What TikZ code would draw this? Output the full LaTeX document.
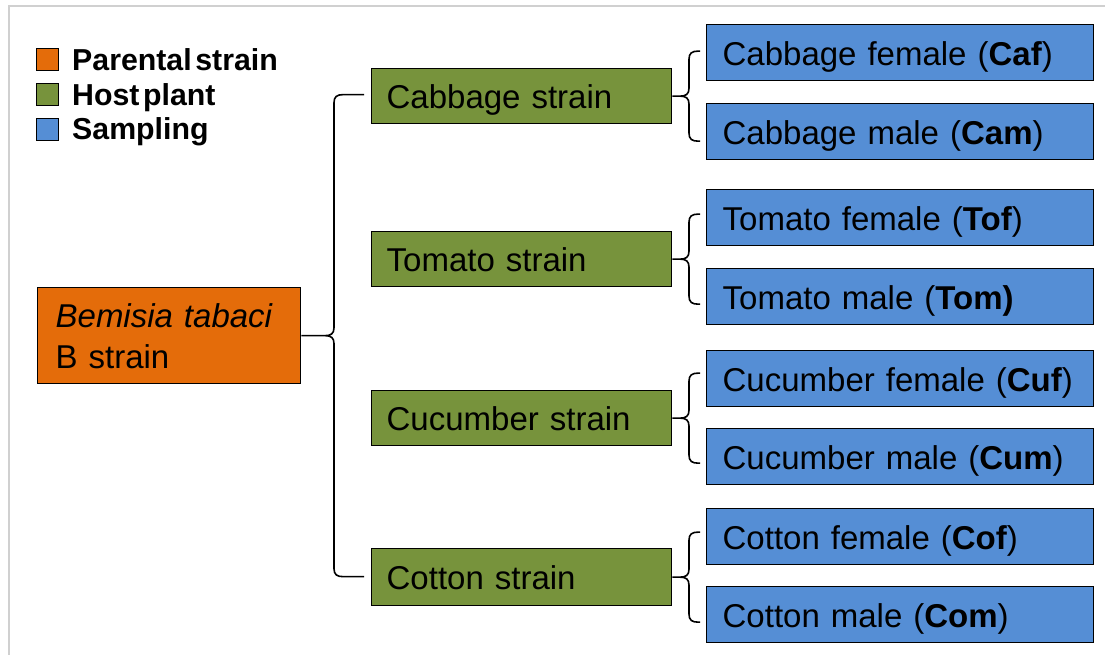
\documentclass[tikz,border=0pt]{standalone}
\usepackage{fontspec}
\setmainfont{Liberation Sans}
\usetikzlibrary{calc}
\definecolor{parcol}{HTML}{E46C0A}
\definecolor{hostcol}{HTML}{77933C}
\definecolor{sampcol}{HTML}{558ED5}
\definecolor{framecol}{HTML}{D0D0D0}
\tikzset{
  box/.style={draw=black, line width=1.3pt, anchor=north west, inner ysep=0pt, font=\fontsize{33}{41}\selectfont, align=left, text depth=0pt},
  parbox/.style={box, fill=parcol, minimum width=263pt, minimum height=96pt, text width=227pt, inner xsep=18pt, text height=25pt, text depth=41pt},
  hostbox/.style={box, fill=hostcol, minimum width=300pt, minimum height=55pt, text width=270pt, inner xsep=15pt, text height=25.5pt},
  sampbox/.style={box, fill=sampcol, minimum width=387pt, minimum height=56pt, text width=355pt, inner xsep=16pt, text height=25.5pt},
  legsq/.style={draw=black, line width=1.2pt, minimum width=22pt, minimum height=22pt, inner sep=0pt, anchor=north west},
  legtxt/.style={anchor=base west, inner sep=0pt, font=\fontsize{30.3}{35}\selectfont\bfseries},
  braceline/.style={draw=black, line width=1.6pt},
}
\newcommand{\bracedraw}[4]{%
  \draw[braceline] let \p1=(#1.east) in
    (#1.east) -- ({#2pt-9pt},\y1)
    .. controls ({#2pt-3pt},\y1) and ({#2pt},{\y1+2pt}) .. ({#2pt},{\y1+8pt})
    -- ({#2pt},{\y1+#4pt-8pt})
    .. controls ({#2pt},{\y1+#4pt-2pt}) and ({#2pt+3pt},{\y1+#4pt}) .. ({#2pt+9pt},{\y1+#4pt})
    -- ({#3pt},{\y1+#4pt})
    ({#2pt-9pt},\y1)
    .. controls ({#2pt-3pt},\y1) and ({#2pt},{\y1-2pt}) .. ({#2pt},{\y1-8pt})
    -- ({#2pt},{\y1-#4pt+8pt})
    .. controls ({#2pt},{\y1-#4pt+2pt}) and ({#2pt+3pt},{\y1-#4pt}) .. ({#2pt+9pt},{\y1-#4pt})
    -- ({#3pt},{\y1-#4pt});
}
\begin{document}
\begin{tikzpicture}[x=1pt,y=1pt]
\useasboundingbox (0,0) rectangle (1105,655);
% frame
\draw[framecol, line width=2pt] (9,0) -- (9,649) -- (1105,649);
% legend
\node[legsq, fill=parcol] (lp) at (36,607) {};
\node[legsq, fill=hostcol] (lh) at (36,572) {};
\node[legsq, fill=sampcol] (ls) at (36,537) {};
\node[legtxt] (lpt) at (72,584) {Parental\hspace{0.12em}strain};
\node[legtxt] (lht) at (72,549) {Host\hspace{0.12em}plant};
\node[legtxt] (lst) at (72,515) {Sampling};
% parental
\node[parbox] (bt) at (37,368) {\textit{Bemisia tabaci}\\B strain};
% host plants
\node[hostbox] (cab) at (371,587) {Cabbage strain};
\node[hostbox] (tom) at (371,424) {Tomato strain};
\node[hostbox] (cuc) at (371,265) {Cucumber strain};
\node[hostbox, minimum height=57pt] (cot) at (371,107) {Cotton strain};
% sampling
\node[sampbox] (caf) at (706,631) {Cabbage female (\textbf{Caf})};
\node[sampbox] (cam) at (706,552) {Cabbage male (\textbf{Cam})};
\node[sampbox] (tof) at (706,466) {Tomato female (\textbf{Tof})};
\node[sampbox] (tomm) at (706,387) {Tomato male (\textbf{Tom)}};
\node[sampbox] (cuf) at (706,305) {Cucumber female (\textbf{Cuf})};
\node[sampbox] (cum) at (706,227) {Cucumber male (\textbf{Cum})};
\node[sampbox] (cof) at (706,147) {Cotton female (\textbf{Cof})};
\node[sampbox] (com) at (706,69) {Cotton male (\textbf{Com})};
% braces
\bracedraw{bt}{334}{364}{241}
\bracedraw{cab}{689}{700}{45}
\bracedraw{tom}{689}{700}{45}
\bracedraw{cuc}{689}{700}{45}
\bracedraw{cot}{689}{700}{45}
\end{tikzpicture}
\end{document}
